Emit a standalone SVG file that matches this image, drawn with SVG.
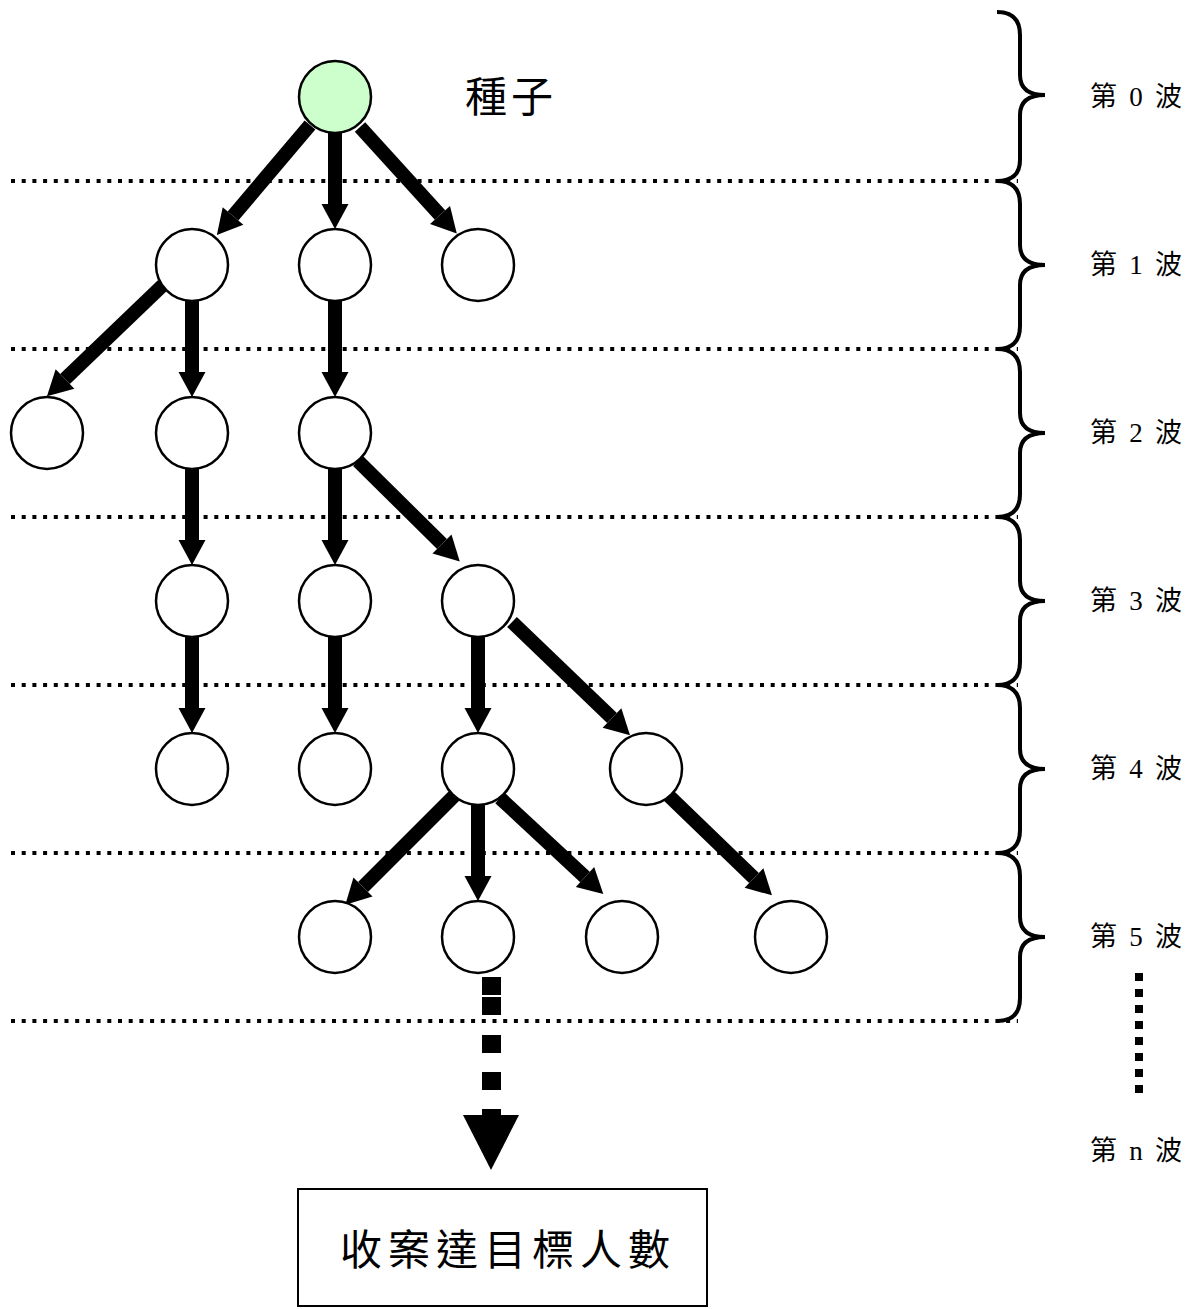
<svg xmlns="http://www.w3.org/2000/svg" width="1197" height="1309" viewBox="0 0 1197 1309">
<style>
.dot{stroke:#000;stroke-width:4;stroke-dasharray:4 6.7;fill:none}
.brace{stroke:#000;stroke-width:4;fill:none}
.node{fill:#fff;stroke:#000;stroke-width:2.5}
.seed{fill:#ccffcc;stroke:#000;stroke-width:2.5}
.arr{stroke:#000;stroke-width:14;fill:none;marker-end:url(#head)}
.lbl{font-family:"Liberation Serif","Noto Sans CJK TC",serif;font-size:27px;fill:#000}
.big{font-family:"Noto Sans CJK TC",serif;font-size:42px;fill:#000}
</style>
<defs>
<marker id="head" markerUnits="userSpaceOnUse" orient="auto" markerWidth="30" markerHeight="30" refX="0" refY="13.5" overflow="visible">
<path d="M0,0 L25,13.5 L0,27 z" fill="#000"/>
</marker>
</defs>
<rect width="1197" height="1309" fill="#fff"/>
<g id="wave-lines">
<line class="dot" x1="11" y1="181" x2="1018" y2="181"/>
<line class="dot" x1="11" y1="349" x2="1018" y2="349"/>
<line class="dot" x1="11" y1="517" x2="1018" y2="517"/>
<line class="dot" x1="11" y1="685" x2="1018" y2="685"/>
<line class="dot" x1="11" y1="853" x2="1018" y2="853"/>
<line class="dot" x1="11" y1="1021" x2="1018" y2="1021"/>
<line x1="1139" y1="973" x2="1139" y2="1093" stroke="#000" stroke-width="8" stroke-dasharray="8 8"/>
</g>
<g id="braces">
<path class="brace" d="M997,12 Q1020,12 1020,35 L1020,75 Q1020,95 1045,95 Q1020,95 1020,115 L1020,160 Q1020,181 997,181"/>
<path class="brace" d="M997,181 Q1020,181 1020,204 L1020,245 Q1020,265 1045,265 Q1020,265 1020,285 L1020,326 Q1020,349 997,349"/>
<path class="brace" d="M997,349 Q1020,349 1020,372 L1020,413 Q1020,433 1045,433 Q1020,433 1020,453 L1020,494 Q1020,517 997,517"/>
<path class="brace" d="M997,517 Q1020,517 1020,540 L1020,581 Q1020,601 1045,601 Q1020,601 1020,621 L1020,662 Q1020,685 997,685"/>
<path class="brace" d="M997,685 Q1020,685 1020,708 L1020,749 Q1020,769 1045,769 Q1020,769 1020,789 L1020,830 Q1020,853 997,853"/>
<path class="brace" d="M997,853 Q1020,853 1020,876 L1020,917 Q1020,937 1045,937 Q1020,937 1020,957 L1020,998 Q1020,1021 997,1021"/>
</g>
<g id="labels">
<text class="lbl" x="1090" y="106" textLength="92" lengthAdjust="spacing">第 0 波</text>
<text class="lbl" x="1090" y="274" textLength="92" lengthAdjust="spacing">第 1 波</text>
<text class="lbl" x="1090" y="442" textLength="92" lengthAdjust="spacing">第 2 波</text>
<text class="lbl" x="1090" y="610" textLength="92" lengthAdjust="spacing">第 3 波</text>
<text class="lbl" x="1090" y="778" textLength="92" lengthAdjust="spacing">第 4 波</text>
<text class="lbl" x="1090" y="946" textLength="92" lengthAdjust="spacing">第 5 波</text>
<text class="lbl" x="1090" y="1160" textLength="92" lengthAdjust="spacing">第 n 波</text>
</g>
<g id="connectors">
<line class="arr" x1="310" y1="125" x2="233" y2="216"/>
<line class="arr" x1="335" y1="132" x2="335" y2="204"/>
<line class="arr" x1="360" y1="127" x2="440" y2="215"/>
<line class="arr" x1="163" y1="285" x2="65" y2="379"/>
<line class="arr" x1="192" y1="301" x2="192" y2="372"/>
<line class="arr" x1="335" y1="301" x2="335" y2="372"/>
<line class="arr" x1="192" y1="469" x2="192" y2="540"/>
<line class="arr" x1="335" y1="469" x2="335" y2="540"/>
<line class="arr" x1="358" y1="461" x2="442" y2="544"/>
<line class="arr" x1="192" y1="637" x2="192" y2="708"/>
<line class="arr" x1="335" y1="637" x2="335" y2="708"/>
<line class="arr" x1="478" y1="637" x2="478" y2="708"/>
<line class="arr" x1="512" y1="622" x2="612" y2="718"/>
<line class="arr" x1="455" y1="795" x2="363" y2="887"/>
<line class="arr" x1="478" y1="805" x2="478" y2="876"/>
<line class="arr" x1="500" y1="798" x2="585" y2="877"/>
<line class="arr" x1="668" y1="795" x2="754" y2="878"/>
<g id="dashed-arrow">
<rect x="482" y="977" width="19" height="18"/>
<rect x="482" y="997" width="19" height="18"/>
<rect x="482" y="1035" width="19" height="18"/>
<rect x="482" y="1072" width="19" height="18"/>
<rect x="482" y="1109" width="19" height="8"/>
<path d="M463,1115 L519,1115 L491,1170 z"/>
</g>
</g>
<g id="seed"><circle class="seed" cx="335" cy="97" r="36"/><text class="big" x="465" y="112" letter-spacing="4">種子</text></g>
<g id="n1a"><circle class="node" cx="192" cy="265" r="36"/></g>
<g id="n1b"><circle class="node" cx="335" cy="265" r="36"/></g>
<g id="n1c"><circle class="node" cx="478" cy="265" r="36"/></g>
<g id="n2a"><circle class="node" cx="47" cy="433" r="36"/></g>
<g id="n2b"><circle class="node" cx="192" cy="433" r="36"/></g>
<g id="n2c"><circle class="node" cx="335" cy="433" r="36"/></g>
<g id="n3a"><circle class="node" cx="192" cy="601" r="36"/></g>
<g id="n3b"><circle class="node" cx="335" cy="601" r="36"/></g>
<g id="n3c"><circle class="node" cx="478" cy="601" r="36"/></g>
<g id="n4a"><circle class="node" cx="192" cy="769" r="36"/></g>
<g id="n4b"><circle class="node" cx="335" cy="769" r="36"/></g>
<g id="n4c"><circle class="node" cx="478" cy="769" r="36"/></g>
<g id="n4d"><circle class="node" cx="646" cy="769" r="36"/></g>
<g id="n5a"><circle class="node" cx="335" cy="937" r="36"/></g>
<g id="n5b"><circle class="node" cx="478" cy="937" r="36"/></g>
<g id="n5c"><circle class="node" cx="622" cy="937" r="36"/></g>
<g id="n5d"><circle class="node" cx="791" cy="937" r="36"/></g>
<g id="target"><rect x="298" y="1189" width="409" height="117" fill="#fff" stroke="#000" stroke-width="2"/><text class="big" x="340" y="1265" textLength="330" lengthAdjust="spacing">收案達目標人數</text></g>
</svg>
